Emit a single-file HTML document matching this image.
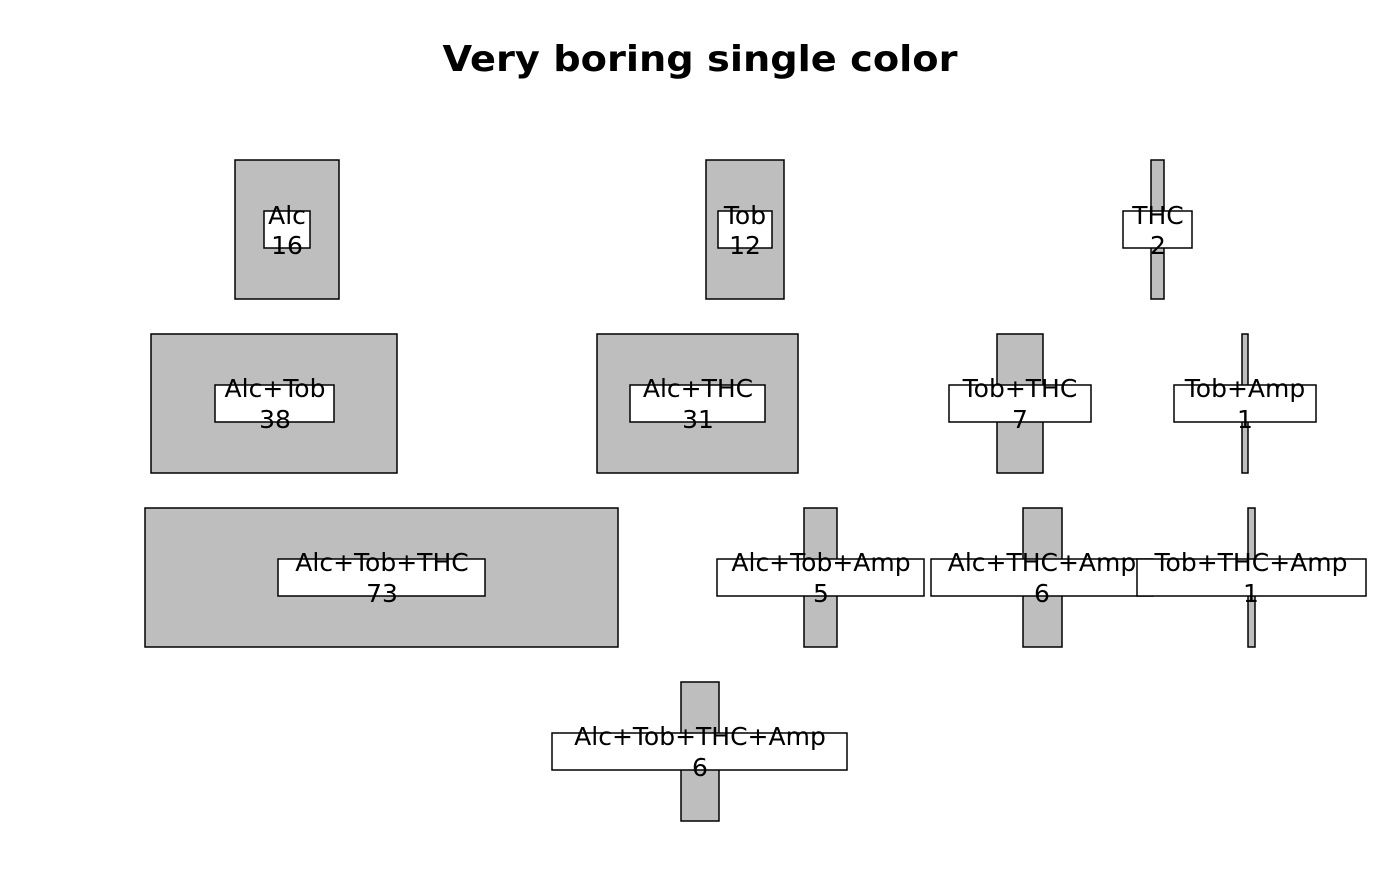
<!DOCTYPE html>
<html><head><meta charset="utf-8"><style>html,body{margin:0;padding:0;background:#fff}</style></head>
<body>
<svg width="1400" height="866" xmlns="http://www.w3.org/2000/svg" font-family="DejaVu Sans, sans-serif">
<rect width="1400" height="866" fill="#fff"/>
<text x="700" y="71" font-size="36" font-weight="bold" text-anchor="middle" textLength="515" lengthAdjust="spacingAndGlyphs">Very boring single color</text>
<g stroke="#000" stroke-width="1.5" font-size="25" text-anchor="middle">
<rect x="235" y="160" width="104" height="139" fill="#bebebe"/><rect x="264" y="211" width="46" height="37" fill="#fff"/>
<text x="287" y="224" stroke="none">Alc</text><text x="287" y="254" stroke="none">16</text>

<rect x="706" y="160" width="78" height="139" fill="#bebebe"/><rect x="718" y="211" width="54" height="37" fill="#fff"/>
<text x="745" y="224" stroke="none">Tob</text><text x="745" y="254" stroke="none">12</text>

<rect x="1151" y="160" width="13" height="139" fill="#bebebe"/><rect x="1123" y="211" width="69" height="37" fill="#fff"/>
<text x="1158" y="224" stroke="none">THC</text><text x="1158" y="254" stroke="none">2</text>

<rect x="151" y="334" width="246" height="139" fill="#bebebe"/><rect x="215" y="385" width="119" height="37" fill="#fff"/>
<text x="275" y="397" stroke="none">Alc+Tob</text><text x="275" y="428" stroke="none">38</text>

<rect x="597" y="334" width="201" height="139" fill="#bebebe"/><rect x="630" y="385" width="135" height="37" fill="#fff"/>
<text x="698" y="397" stroke="none">Alc+THC</text><text x="698" y="428" stroke="none">31</text>

<rect x="997" y="334" width="46" height="139" fill="#bebebe"/><rect x="949" y="385" width="142" height="37" fill="#fff"/>
<text x="1020" y="397" stroke="none">Tob+THC</text><text x="1020" y="428" stroke="none">7</text>

<rect x="1242" y="334" width="6" height="139" fill="#bebebe"/><rect x="1174" y="385" width="142" height="37" fill="#fff"/>
<text x="1245" y="397" stroke="none">Tob+Amp</text><text x="1245" y="428" stroke="none">1</text>

<rect x="145" y="508" width="473" height="139" fill="#bebebe"/><rect x="278" y="559" width="207" height="37" fill="#fff"/>
<text x="382" y="571" stroke="none">Alc+Tob+THC</text><text x="382" y="602" stroke="none">73</text>

<rect x="804" y="508" width="33" height="139" fill="#bebebe"/><rect x="717" y="559" width="207" height="37" fill="#fff"/>
<text x="821" y="571" stroke="none">Alc+Tob+Amp</text><text x="821" y="602" stroke="none">5</text>

<rect x="1023" y="508" width="39" height="139" fill="#bebebe"/><rect x="931" y="559" width="222" height="37" fill="#fff"/>
<text x="1042" y="571" stroke="none">Alc+THC+Amp</text><text x="1042" y="602" stroke="none">6</text>

<rect x="1248" y="508" width="7" height="139" fill="#bebebe"/><rect x="1137" y="559" width="229" height="37" fill="#fff"/>
<text x="1251" y="571" stroke="none">Tob+THC+Amp</text><text x="1251" y="602" stroke="none">1</text>

<rect x="681" y="682" width="38" height="139" fill="#bebebe"/><rect x="552" y="733" width="295" height="37" fill="#fff"/>
<text x="700" y="745" stroke="none">Alc+Tob+THC+Amp</text><text x="700" y="776" stroke="none">6</text>
</g>
</svg>
</body></html>
